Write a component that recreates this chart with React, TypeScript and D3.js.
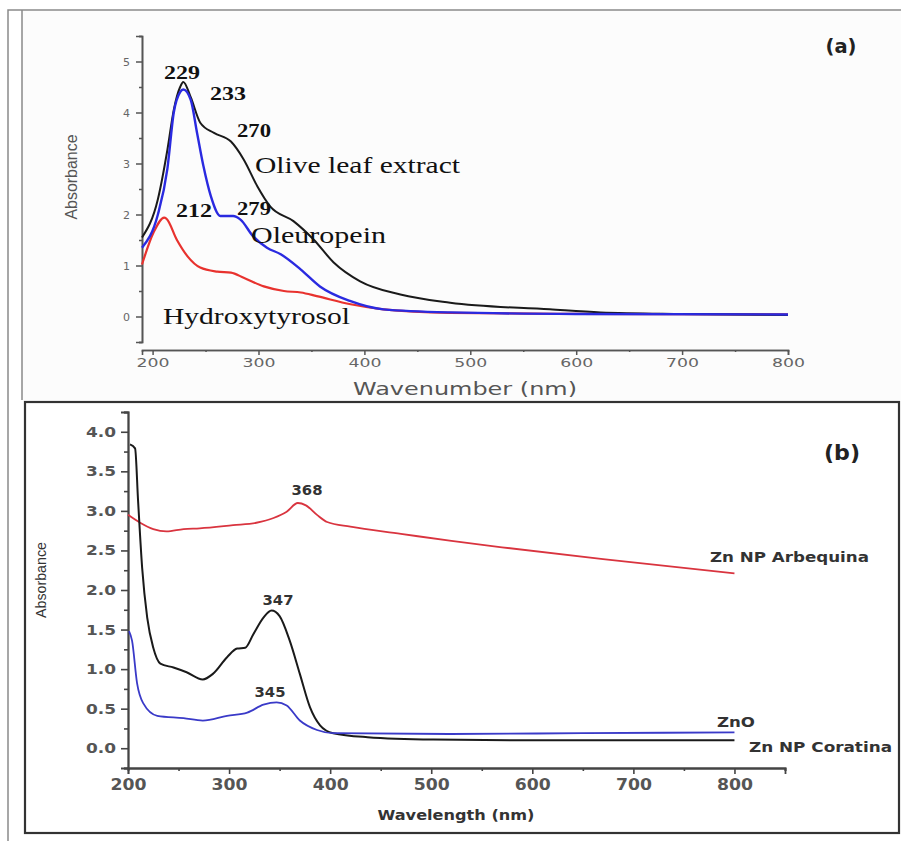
import React, { useRef, useEffect } from "react";
import * as d3 from "d3";

// Panel (a): UV-vis of olive leaf extract and its compounds
const oliveX = [190, 205, 214, 220, 226, 229, 236, 245, 258, 274, 286, 299, 311, 333, 352, 371, 396, 434, 481, 575, 623, 700, 800];
const oliveY = [1.55, 2.3, 3.27, 4.05, 4.5, 4.6, 4.3, 3.8, 3.6, 3.43, 3.08, 2.55, 2.16, 1.87, 1.51, 1.06, 0.69, 0.43, 0.27, 0.14, 0.08, 0.05, 0.03];
const oleuX = [190, 205, 214, 220, 226, 229, 236, 242, 248, 255, 264, 276, 283, 295, 308, 321, 340, 358, 387, 418, 481, 600, 800];
const oleuY = [1.35, 2.0, 2.9, 4.0, 4.4, 4.45, 4.25, 3.6, 2.95, 2.36, 1.97, 1.97, 1.9, 1.57, 1.35, 1.22, 0.92, 0.59, 0.3, 0.14, 0.08, 0.05, 0.04];
const hydroX = [190, 201, 211, 213, 223, 233, 245, 261, 274, 286, 305, 324, 340, 355, 387, 418, 481, 600, 800];
const hydroY = [1.02, 1.65, 1.94, 1.92, 1.5, 1.18, 0.96, 0.88, 0.86, 0.76, 0.59, 0.5, 0.47, 0.4, 0.24, 0.14, 0.07, 0.05, 0.04];

// Panel (b): Zn nanoparticles
const arbeX = [200, 212, 225, 238, 255, 271, 304, 327, 344, 357, 368, 376, 387, 397, 420, 470, 520, 570, 670, 800];
const arbeY = [2.95, 2.85, 2.77, 2.74, 2.77, 2.78, 2.82, 2.85, 2.91, 2.99, 3.1, 3.07, 2.95, 2.86, 2.8, 2.71, 2.62, 2.54, 2.39, 2.21];
const coraX = [202, 207, 210, 214, 219, 225, 232, 245, 258, 274, 284, 298, 308, 316, 324, 334, 342, 350, 360, 370, 380, 390, 403, 437, 502, 600, 800];
const coraY = [3.84, 3.79, 3.12, 2.28, 1.65, 1.27, 1.07, 1.02, 0.96, 0.87, 0.94, 1.15, 1.26, 1.27, 1.44, 1.65, 1.74, 1.67, 1.36, 0.94, 0.52, 0.29, 0.19, 0.14, 0.11, 0.1, 0.1];
const znoX = [201, 204, 209, 215, 229, 255, 274, 298, 318, 334, 347, 357, 370, 387, 403, 519, 650, 800];
const znoY = [1.48, 1.36, 0.82, 0.57, 0.41, 0.38, 0.35, 0.41, 0.45, 0.55, 0.58, 0.54, 0.35, 0.23, 0.19, 0.18, 0.19, 0.2];

const aXTicks = [200, 300, 400, 500, 600, 700, 800];
const aYTicks = [0, 1, 2, 3, 4, 5];
const bXTicks = [200, 300, 400, 500, 600, 700, 800];
const bYTicks = [0, 0.5, 1, 1.5, 2, 2.5, 3, 3.5, 4];

const zip = (xs: number[], ys: number[]) => xs.map((x, i) => [x, ys[i]] as [number, number]);

type Lbl = { t: string; x: number; y: number; size: number; len: number; anchor?: string };

export default function App() {
    const ref = useRef<SVGSVGElement>(null);

    useEffect(() => {
        const svg = d3.select(ref.current);
        svg.selectAll("*").remove();

        const label = (g: any, l: Lbl, font: string, weight: string, fill: string) =>
            g.append("text").attr("x", l.x).attr("y", l.y).attr("text-anchor", l.anchor || "start")
                .attr("font-family", font).attr("font-weight", weight).attr("font-size", l.size).attr("fill", fill)
                .attr("textLength", l.len).attr("lengthAdjust", "spacingAndGlyphs").text(l.t);

        svg.append("rect").attr("width", 901).attr("height", 841).attr("fill", "#fff");
        // frame of panel (a)
        svg.append("rect").attr("x", 22).attr("y", 10).attr("width", 879).attr("height", 390).attr("fill", "#fcfcfc");
        svg.append("path").attr("d", "M8,841V10H901").attr("fill", "none").attr("stroke", "#8a8a8a").attr("stroke-width", 1.5);
        svg.append("path").attr("d", "M22,10V400").attr("fill", "none").attr("stroke", "#8a8a8a").attr("stroke-width", 1.5);
        // frame of panel (b)
        svg.append("rect").attr("x", 25).attr("y", 402).attr("width", 874).attr("height", 431)
            .attr("fill", "#fff").attr("stroke", "#333").attr("stroke-width", 2.2);

        // ---------- panel (a) ----------
        const xa = d3.scaleLinear().domain([190, 800]).range([142, 788]);
        const ya = d3.scaleLinear().domain([-0.5, 5.5]).range([342, 36]);
        const ga = svg.append("g");
        const axCol = "#555";

        ga.append("g").attr("transform", "translate(0,350)")
            .call(d3.axisBottom(xa).tickValues(d3.range(250, 801, 100)).tickSize(2).tickFormat(() => ""));
        ga.append("g").attr("class", "xa").attr("transform", "translate(0,350)")
            .call(d3.axisBottom(xa).tickValues(aXTicks).tickSize(5).tickPadding(3).tickFormat(d3.format("d")));
        ga.append("g").attr("transform", "translate(142,0)")
            .call(d3.axisLeft(ya).tickValues(d3.range(-0.5, 5.6, 1)).tickSize(3).tickFormat(() => ""));
        ga.append("g").attr("transform", "translate(142,0)")
            .call(d3.axisLeft(ya).tickValues(aYTicks).tickSize(6).tickPadding(6).tickFormat(d3.format("d")));
        ga.selectAll(".domain").attr("stroke", axCol).attr("stroke-width", 1.6);
        ga.selectAll(".tick line").attr("stroke", axCol).attr("stroke-width", 1.5);
        ga.selectAll(".tick text").attr("fill", "#666").attr("font-family", "DejaVu Sans").attr("font-size", 11);
        ga.selectAll(".xa .tick text").attr("font-size", 13).attr("textLength", 33).attr("lengthAdjust", "spacingAndGlyphs");

        const lineA = d3.line<[number, number]>().x(d => xa(d[0])).y(d => ya(d[1])).curve(d3.curveMonotoneX);
        ga.append("path").datum(zip(hydroX, hydroY)).attr("d", lineA).attr("fill", "none").attr("stroke", "#e8322e").attr("stroke-width", 2.2);
        ga.append("path").datum(zip(oliveX, oliveY)).attr("d", lineA).attr("fill", "none").attr("stroke", "#1a1a1a").attr("stroke-width", 2);
        ga.append("path").datum(zip(oleuX, oleuY)).attr("d", lineA).attr("fill", "none").attr("stroke", "#2a2ae0").attr("stroke-width", 2.4);

        ga.append("text").attr("transform", "translate(77,177) rotate(-90)").attr("text-anchor", "middle")
            .attr("font-family", "Liberation Sans Narrow, Liberation Sans").attr("font-size", 16).attr("fill", "#555")
            .attr("textLength", 85).attr("lengthAdjust", "spacingAndGlyphs").text("Absorbance");
        label(ga, { t: "Wavenumber (nm)", x: 465, y: 395, size: 18, len: 224, anchor: "middle" }, "DejaVu Sans", "normal", "#555");
        label(ga, { t: "(a)", x: 841, y: 53, size: 20, len: 31, anchor: "middle" }, "DejaVu Sans", "bold", "#222");

        const serif = "Liberation Serif";
        const nums: Lbl[] = [
            { t: "229", x: 182, y: 79, size: 19, len: 36, anchor: "middle" },
            { t: "233", x: 228, y: 100, size: 19, len: 36, anchor: "middle" },
            { t: "270", x: 254, y: 137, size: 19, len: 34, anchor: "middle" },
            { t: "212", x: 194, y: 217, size: 19, len: 36, anchor: "middle" },
            { t: "279", x: 254, y: 215, size: 19, len: 34, anchor: "middle" },
        ];
        nums.forEach(l => label(ga, l, serif, "bold", "#111"));
        const names: Lbl[] = [
            { t: "Olive leaf extract", x: 255, y: 173, size: 23, len: 205 },
            { t: "Oleuropein", x: 251, y: 243, size: 23, len: 135 },
            { t: "Hydroxytyrosol", x: 163, y: 324, size: 23, len: 187 },
        ];
        names.forEach(l => label(ga, l, serif, "normal", "#111"));

        // ---------- panel (b) ----------
        const xb = d3.scaleLinear().domain([200, 850]).range([128, 785]);
        const yb = d3.scaleLinear().domain([-0.25, 4.25]).range([768, 412]);
        const gb = svg.append("g");

        gb.append("g").attr("transform", "translate(0,768)")
            .call(d3.axisBottom(xb).tickValues(d3.range(250, 851, 100)).tickSize(3).tickFormat(() => ""));
        gb.append("g").attr("class", "xb").attr("transform", "translate(0,768)")
            .call(d3.axisBottom(xb).tickValues(bXTicks).tickSize(6).tickPadding(5).tickFormat(d3.format("d")));
        gb.append("g").attr("transform", "translate(128,0)")
            .call(d3.axisLeft(yb).tickValues(d3.range(-0.25, 4.3, 0.5)).tickSize(4).tickFormat(() => ""));
        gb.append("g").attr("transform", "translate(128,0)")
            .call(d3.axisLeft(yb).tickValues(bYTicks).tickSize(7).tickPadding(5).tickFormat(d3.format(".1f")));
        gb.selectAll(".domain").attr("stroke", "#444").attr("stroke-width", 1.8);
        gb.selectAll(".tick line").attr("stroke", "#444").attr("stroke-width", 1.6);
        gb.selectAll(".tick text").attr("fill", "#555").attr("font-family", "DejaVu Sans").attr("font-weight", "bold")
            .attr("font-size", 14).attr("textLength", 30).attr("lengthAdjust", "spacingAndGlyphs");
        gb.selectAll(".xb .tick text").attr("font-size", 15).attr("textLength", 36);

        const lineB = d3.line<[number, number]>().x(d => xb(d[0])).y(d => yb(d[1])).curve(d3.curveMonotoneX);
        gb.append("path").datum(zip(arbeX, arbeY)).attr("d", lineB).attr("fill", "none").attr("stroke", "#d9343f").attr("stroke-width", 1.8);
        gb.append("path").datum(zip(coraX, coraY)).attr("d", lineB).attr("fill", "none").attr("stroke", "#1a1a1a").attr("stroke-width", 2);
        gb.append("path").datum(zip(znoX, znoY)).attr("d", lineB).attr("fill", "none").attr("stroke", "#3a3ac8").attr("stroke-width", 1.8);

        gb.append("text").attr("transform", "translate(46,580) rotate(-90)").attr("text-anchor", "middle")
            .attr("font-family", "Liberation Sans Narrow, Liberation Sans").attr("font-size", 15).attr("fill", "#333")
            .attr("textLength", 76).attr("lengthAdjust", "spacingAndGlyphs").text("Absorbance");
        label(gb, { t: "Wavelength (nm)", x: 456, y: 820, size: 14, len: 157, anchor: "middle" }, "DejaVu Sans", "bold", "#333");
        label(gb, { t: "(b)", x: 842, y: 460, size: 21, len: 36, anchor: "middle" }, "DejaVu Sans", "bold", "#222");

        const annB: Lbl[] = [
            { t: "368", x: 307, y: 495, size: 14, len: 31, anchor: "middle" },
            { t: "347", x: 278, y: 605, size: 14, len: 31, anchor: "middle" },
            { t: "345", x: 270, y: 697, size: 14, len: 31, anchor: "middle" },
            { t: "Zn NP Arbequina", x: 710, y: 562, size: 14, len: 159 },
            { t: "ZnO", x: 717, y: 727, size: 14, len: 38 },
            { t: "Zn NP Coratina", x: 749, y: 752, size: 14, len: 143 },
        ];
        annB.forEach(l => label(gb, l, "DejaVu Sans", "bold", "#333"));
    }, []);

    return <svg ref={ref} width={901} height={841} style={{ position: "absolute", left: 0, top: 0, display: "block" }} />;
}
